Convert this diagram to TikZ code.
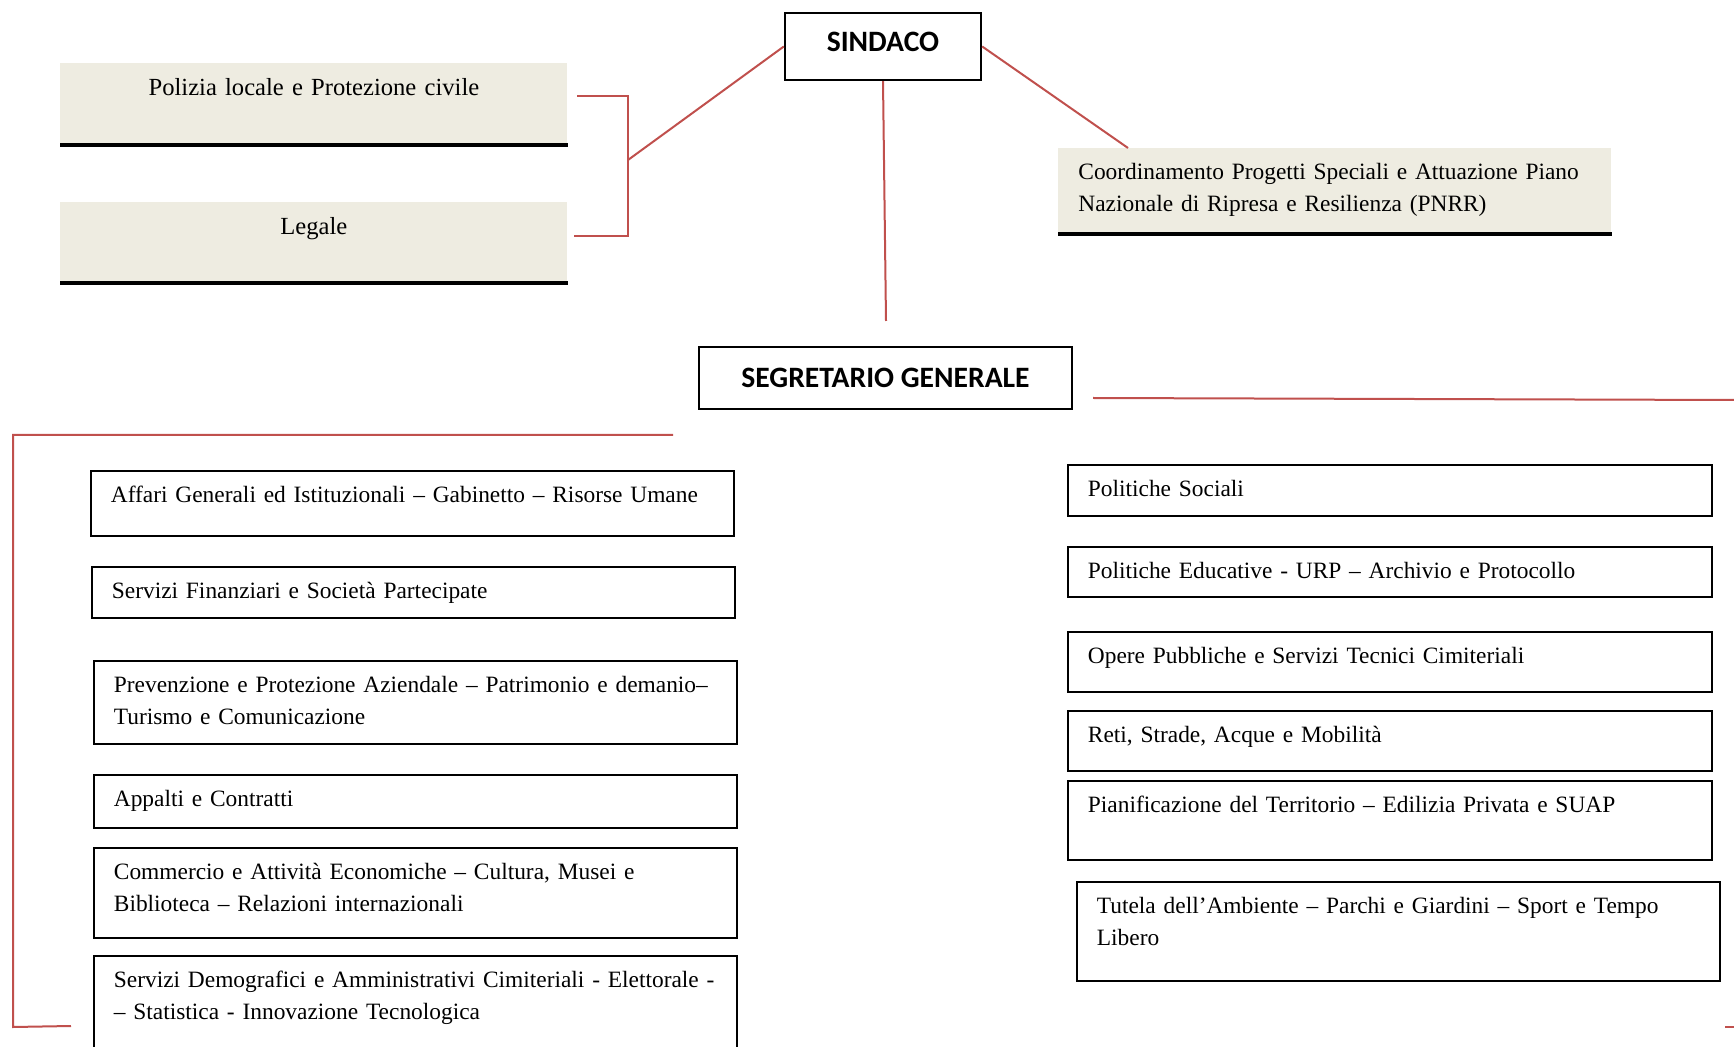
\documentclass[tikz,border=0pt]{standalone}
\usepackage{fontspec}
\setmainfont{Liberation Serif}
\newfontfamily\calibri{Carlito}
\usepackage{tikz}
\definecolor{beige}{HTML}{EEECE1}
\definecolor{linkred}{HTML}{C0504D}

\begin{document}
\begin{tikzpicture}[x=0.5pt,y=-0.5pt,
  head/.style={draw,line width=1.2pt,font=\calibri\bfseries\fontsize{14.8}{17}\selectfont},
  unit/.style={draw,line width=0.9pt,anchor=north west,align=left,inner xsep=10pt,inner ysep=0pt,
    text height=16pt,text width=301.5pt,font=\fontsize{11.7}{16}\selectfont},
  staff/.style={fill=beige,anchor=north west,inner xsep=10pt,inner ysep=0pt,text height=16pt,
    font=\fontsize{11.7}{16}\selectfont,
    append after command={(\tikzlastnode.south west) edge[line width=2pt] (\tikzlastnode.south east)}},
  link/.style={draw=linkred,line width=1pt}]
\useasboundingbox (0,0) rectangle (1734,1047);
\clip (0,0) rectangle (1734,1047);
\path
  (883,46.5)   node[head,minimum width=98pt,minimum height=33.5pt,text depth=4.5pt] (sindaco) {SINDACO}
  (885.5,378)  node[head,minimum width=186.5pt,minimum height=31pt] (segretario) {SEGRETARIO GENERALE}
  (60,63)      node[staff,text width=233.5pt,align=center,text depth=24.5pt,font=\fontsize{12.3}{16}\selectfont] (polizia)
               {Polizia locale e Protezione civile}
  (60,202)     node[staff,text width=233.5pt,align=center,text depth=24pt,font=\fontsize{12.3}{16}\selectfont] (legale) {Legale}
  (1058,148)   node[staff,text width=256.5pt,align=left,text height=15.5pt,text depth=27pt] (coord)
               {\mbox{Coordinamento Progetti Speciali e Attuazione Piano}\\Nazionale di Ripresa e Resilienza (PNRR)}
  (90,470)     node[unit,text depth=16.5pt] (affari) {\mbox{Affari Generali ed Istituzionali – Gabinetto – Risorse Umane}}
  (91,566)     node[unit,text depth=9.5pt] (finanze) {Servizi Finanziari e Società Partecipate}
  (93,660)     node[unit,text depth=25.5pt] (prevenzione)
               {\mbox{Prevenzione e Protezione Aziendale – Patrimonio e demanio–}\\Turismo e Comunicazione}
  (93,774)     node[unit,text depth=10.5pt] (appalti) {Appalti e Contratti}
  (93,847)     node[unit,text depth=29pt] (commercio)
               {\mbox{Commercio e Attività Economiche – Cultura, Musei e}\\Biblioteca – Relazioni internazionali}
  (93,955)     node[unit,text depth=50pt] (demografici)
               {\mbox{Servizi Demografici e Amministrativi Cimiteriali - Elettorale -}\\– Statistica - Innovazione Tecnologica}
  (1067,464)   node[unit,text width=302pt,text depth=9.5pt] (sociali) {Politiche Sociali}
  (1067,546)   node[unit,text width=302pt,text depth=9pt] (educative) {Politiche Educative - URP – Archivio e Protocollo}
  (1067,631)   node[unit,text width=302pt,text depth=14pt] (opere) {Opere Pubbliche e Servizi Tecnici Cimiteriali}
  (1067,710)   node[unit,text width=302pt,text depth=14pt] (reti) {Reti, Strade, Acque e Mobilità}
  (1067,780)   node[unit,text width=302pt,text depth=23.5pt] (territorio) {Pianificazione del Territorio – Edilizia Privata e SUAP}
  (1076,881)   node[unit,text depth=33.5pt] (ambiente)
               {\mbox{Tutela dell’Ambiente – Parchi e Giardini – Sport e Tempo}\\Libero};
\coordinate (polend) at (577,96);
\coordinate (legend) at (574,236);
\coordinate (brk) at (628,160);
\coordinate (segtop) at (886,321);
\coordinate (segright) at (1093,398);
\coordinate (rightend) at (1734,400);
\coordinate (segleft) at (673,435);
\coordinate (leftbot) at (13,1027);
\coordinate (leftend) at (71,1026);
\coordinate (rtick) at (1725,1027);
\coordinate (rtickend) at (1750,1027);
\draw[link] (polend) -| (brk) |- (legend);
\draw[link] (brk) -- (sindaco.west);
\draw[link] (sindaco.south) -- (segtop);
\draw[link] (sindaco.east) -- ([xshift=35pt]coord.north west);
\draw[link] (segright) -- (rightend);
\draw[link] (segleft) -| (leftbot) -- (leftend);
\draw[link] (rtick) -- (rtickend);
\end{tikzpicture}
\end{document}
